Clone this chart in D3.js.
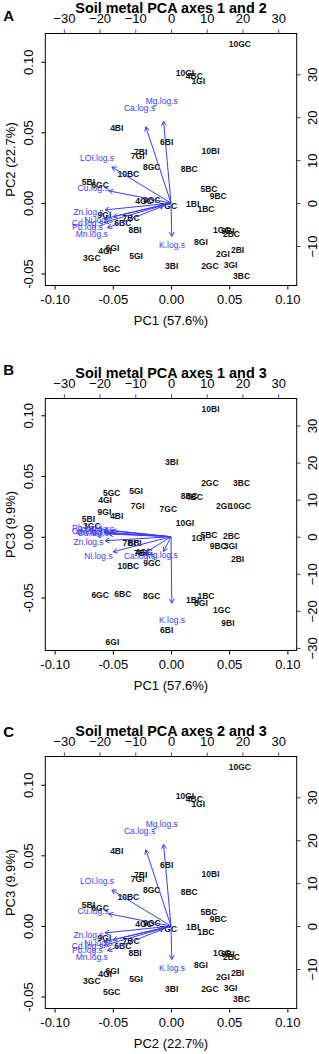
<!DOCTYPE html>
<html>
<head>
<meta charset="utf-8">
<script src="https://cdn.jsdelivr.net/npm/d3@7"></script>
<style>
  body { margin: 0; background: #fff; }
  svg { display: block; font-family: "Liberation Sans", Arial, sans-serif; }
</style>
</head>
<body>
<svg id="chart" width="319" height="1054"></svg>
<script>
// sample scores
var samples = ["1GC","1GI","1BC","1BI","2GC","2GI","2BC","2BI","3GC","3GI","3BC","3BI",
    "4GC","4GI","4BC","4BI","5GC","5GI","5BC","5BI","6GC","6GI","6BC","6BI",
    "7GC","7GI","7BC","7BI","8GC","8GI","8BC","8BI","9GC","9GI","9BC","9BI",
    "10GC","10GI","10BC","10BI"];
var pc1 = [0.0437, 0.0234, 0.0300, 0.0186, 0.0334, 0.0446, 0.0520, 0.0572, -0.0680, 0.0512, 0.0606, 0.0006,
    -0.0232, -0.0566, 0.0200, -0.0466, -0.0509, -0.0300, 0.0326, -0.0709, -0.0609, -0.0503, -0.0414, -0.0037,
    -0.0023, -0.0286, -0.0343, -0.0260, -0.0166, 0.0257, 0.0157, -0.0309, -0.0163, -0.0572, 0.0406, 0.0489,
    0.0592, 0.0120, -0.0366, 0.0340];
var pc2 = [-0.0191, 0.0863, -0.0042, -0.0005, -0.0450, -0.0363, -0.0219, -0.0335, -0.0387, -0.0441, -0.0521, -0.0450,
    0.0014, -0.0339, 0.0900, 0.0533, -0.0467, -0.0375, 0.0097, 0.0151, 0.0127, -0.0318, -0.0146, 0.0429,
    -0.0019, 0.0335, -0.0104, 0.0363, 0.0252, -0.0274, 0.0238, -0.0191, 0.0021, -0.0083, 0.0052, -0.0198,
    0.1122, 0.0922, 0.0203, 0.0370];
var pc3 = [-0.0606, -0.0013, -0.0490, -0.0523, 0.0446, 0.0256, 0.0008, -0.0184, 0.0088, -0.0077, 0.0446, 0.0612,
    -0.0124, 0.0303, 0.0328, 0.0174, 0.0361, 0.0378, 0.0014, 0.0146, -0.0482, -0.0868, -0.0468, -0.0765,
    0.0229, 0.0256, -0.0050, -0.0135, -0.0490, -0.0545, 0.0339, -0.0050, -0.0212, 0.0207, -0.0077, -0.0711,
    0.0256, 0.0116, -0.0240, 0.1055];

// variable loadings
var varNames = ["Mg.log.s","Ca.log.s","LOI.log.s","Cu.log.s","Zn.log.s","Cd.log.s","Ni.log.s","Pb.log.s","Mn.log.s","K.log.s"];
var load1 = [-2.6, -8.8, -20.7, -21.8, -23.1, -23.4, -20.3, -23.4, -22.2, 0.28];
var load2 = [23.8, 22.2, 10.5, 3.56, -2.0, -4.6, -4.0, -5.65, -7.2, -9.7];
var load3 = [-5.0, -5.3, 2.0, 0.9, -1.36, 1.6, -5.1, 2.4, 1.2, -22.4];

// tick labels
var scoreTicks = [-0.10, -0.05, 0.00, 0.05, 0.10];
var loadTicks = [-30, -20, -10, 0, 10, 20, 30];

var BLUE = "#3b3bff";
var L = 45.3, R = 296.7, T = 33.5, B = 285.5;
var svg = d3.select("#chart");

var panels = [
    {letter: "A", letterY: 20.7, off: 0, title: "Soil metal PCA axes 1 and 2",
     xlab: "PC1 (57.6%)", ylab: "PC2 (22.7%)", sx: pc1, sy: pc2, lx: load1, ly: load2,
     yDom: [-0.0585, 0.12], lyDom: [-19.2, 39.5]},
    {letter: "B", letterY: 375, off: 365, title: "Soil metal PCA axes 1 and 3",
     xlab: "PC1 (57.6%)", ylab: "PC3 (9.9%)", sx: pc1, sy: pc3, lx: load1, ly: load3,
     yDom: [-0.0936, 0.1138], lyDom: [-30.7, 37.3]},
    {letter: "C", letterY: 736.7, off: 723, title: "Soil metal PCA axes 2 and 3",
     xlab: "PC2 (22.7%)", ylab: "PC3 (9.9%)", sx: pc1, sy: pc2, lx: load1, ly: load2,
     yDom: [-0.0585, 0.12], lyDom: [-19.2, 39.5]}
];

panels.forEach(drawPanel);

function styleAxis(g, color) {
    g.attr("font-size", 13)
        .attr("font-family", "'Liberation Sans', Arial, sans-serif");
    g.select(".domain").remove();
    g.selectAll(".tick line").attr("stroke", color);
    g.selectAll(".tick text").attr("fill", "#000");
}

function drawPanel(p) {
    var g = svg.append("g").attr("transform", "translate(0," + p.off + ")");

    var x = d3.scaleLinear().domain([-0.108, 0.108]).range([L, R]);
    var y = d3.scaleLinear().domain(p.yDom).range([B, T]);
    var xl = d3.scaleLinear().domain([-35.2, 35.2]).range([L, R]);
    var yl = d3.scaleLinear().domain(p.lyDom).range([B, T]);
    var fmt = function(d){ return d.toFixed(2); };

    // bottom axis
    var gb = g.append("g").attr("transform", "translate(0," + B + ")")
        .call(d3.axisBottom(x).tickValues(scoreTicks).tickFormat(fmt).tickSize(4));
    styleAxis(gb, "#000");
    gb.selectAll(".tick text").attr("y", 18.8).attr("dy", null);

    // left axis
    var gl = g.append("g").attr("transform", "translate(" + L + ",0)")
        .call(d3.axisLeft(y).tickValues(scoreTicks.filter(function(d){
            return y(d) >= T && y(d) <= B;
        })).tickFormat(fmt).tickSize(4));
    styleAxis(gl, "#000");
    gl.selectAll(".tick text")
        .attr("x", 0).attr("dy", null)
        .attr("text-anchor", "middle")
        .attr("transform", "translate(-12,0) rotate(-90)");

    // top axis (loadings)
    var gt = g.append("g").attr("transform", "translate(0," + T + ")")
        .call(d3.axisTop(xl).tickValues(loadTicks).tickSize(4));
    styleAxis(gt, BLUE);
    gt.selectAll(".tick text").attr("y", -10.8).attr("dy", null);

    // right axis (loadings)
    var gr = g.append("g").attr("transform", "translate(" + R + ",0)")
        .call(d3.axisRight(yl).tickValues(loadTicks.filter(function(d){
            return yl(d) >= T && yl(d) <= B;
        })).tickSize(4));
    styleAxis(gr, BLUE);
    gr.selectAll(".tick text")
        .attr("x", 0).attr("dy", null)
        .attr("text-anchor", "middle")
        .attr("transform", "translate(20,0) rotate(-90)");

    // box
    g.append("rect")
        .attr("x", L).attr("y", T)
        .attr("width", R - L).attr("height", B - T)
        .attr("fill", "none").attr("stroke", "#000").attr("stroke-width", 1);

    // sample labels
    g.append("g").selectAll("text")
        .data(samples)
        .enter()
        .append("text")
        .attr("x", function(d, i){ return x(p.sx[i]); })
        .attr("y", function(d, i){ return y(p.sy[i]); })
        .attr("dy", "0.35em")
        .attr("text-anchor", "middle")
        .attr("font-size", 8.5)
        .attr("font-weight", "bold")
        .attr("fill", "#111")
        .text(function(d){ return d; });

    // arrows
    var ox = xl(0), oy = yl(0);
    var arr = g.append("g");
    arr.selectAll("line")
        .data(varNames)
        .enter()
        .append("line")
        .attr("x1", ox).attr("y1", oy)
        .attr("x2", function(d, i){ return xl(0.8 * p.lx[i]); })
        .attr("y2", function(d, i){ return yl(0.8 * p.ly[i]); })
        .attr("stroke", BLUE).attr("stroke-width", 1);

    arr.selectAll("path")
        .data(varNames)
        .enter()
        .append("path")
        .attr("d", function(d, i){
            var tx = xl(0.8 * p.lx[i]), ty = yl(0.8 * p.ly[i]);
            var a = Math.atan2(ty - oy, tx - ox);
            var len = 5, sp = Math.PI / 6;
            var x1 = tx - len * Math.cos(a - sp), y1 = ty - len * Math.sin(a - sp);
            var x2 = tx - len * Math.cos(a + sp), y2 = ty - len * Math.sin(a + sp);
            return "M" + x1 + "," + y1 + "L" + tx + "," + ty + "L" + x2 + "," + y2;
        })
        .attr("fill", "none").attr("stroke", BLUE).attr("stroke-width", 1);

    arr.selectAll("text")
        .data(varNames)
        .enter()
        .append("text")
        .attr("x", function(d, i){ return xl(p.lx[i]); })
        .attr("y", function(d, i){ return yl(p.ly[i]); })
        .attr("dy", "0.35em")
        .attr("text-anchor", "middle")
        .attr("font-size", 8.5)
        .attr("fill", BLUE)
        .text(function(d){ return d; });

    // titles
    g.append("text")
        .attr("x", 171).attr("y", 13.3)
        .attr("text-anchor", "middle")
        .attr("font-size", 14.4).attr("font-weight", "bold")
        .text(p.title);

    g.append("text")
        .attr("x", 171).attr("y", 325)
        .attr("text-anchor", "middle")
        .attr("font-size", 13)
        .text(p.xlab);

    g.append("text")
        .attr("transform", "translate(15," + ((T + B) / 2) + ") rotate(-90)")
        .attr("text-anchor", "middle")
        .attr("font-size", 13)
        .text(p.ylab);

    svg.append("text")
        .attr("x", 3.3).attr("y", p.letterY)
        .attr("font-size", 15).attr("font-weight", "bold")
        .text(p.letter);
}
</script>
</body>
</html>
